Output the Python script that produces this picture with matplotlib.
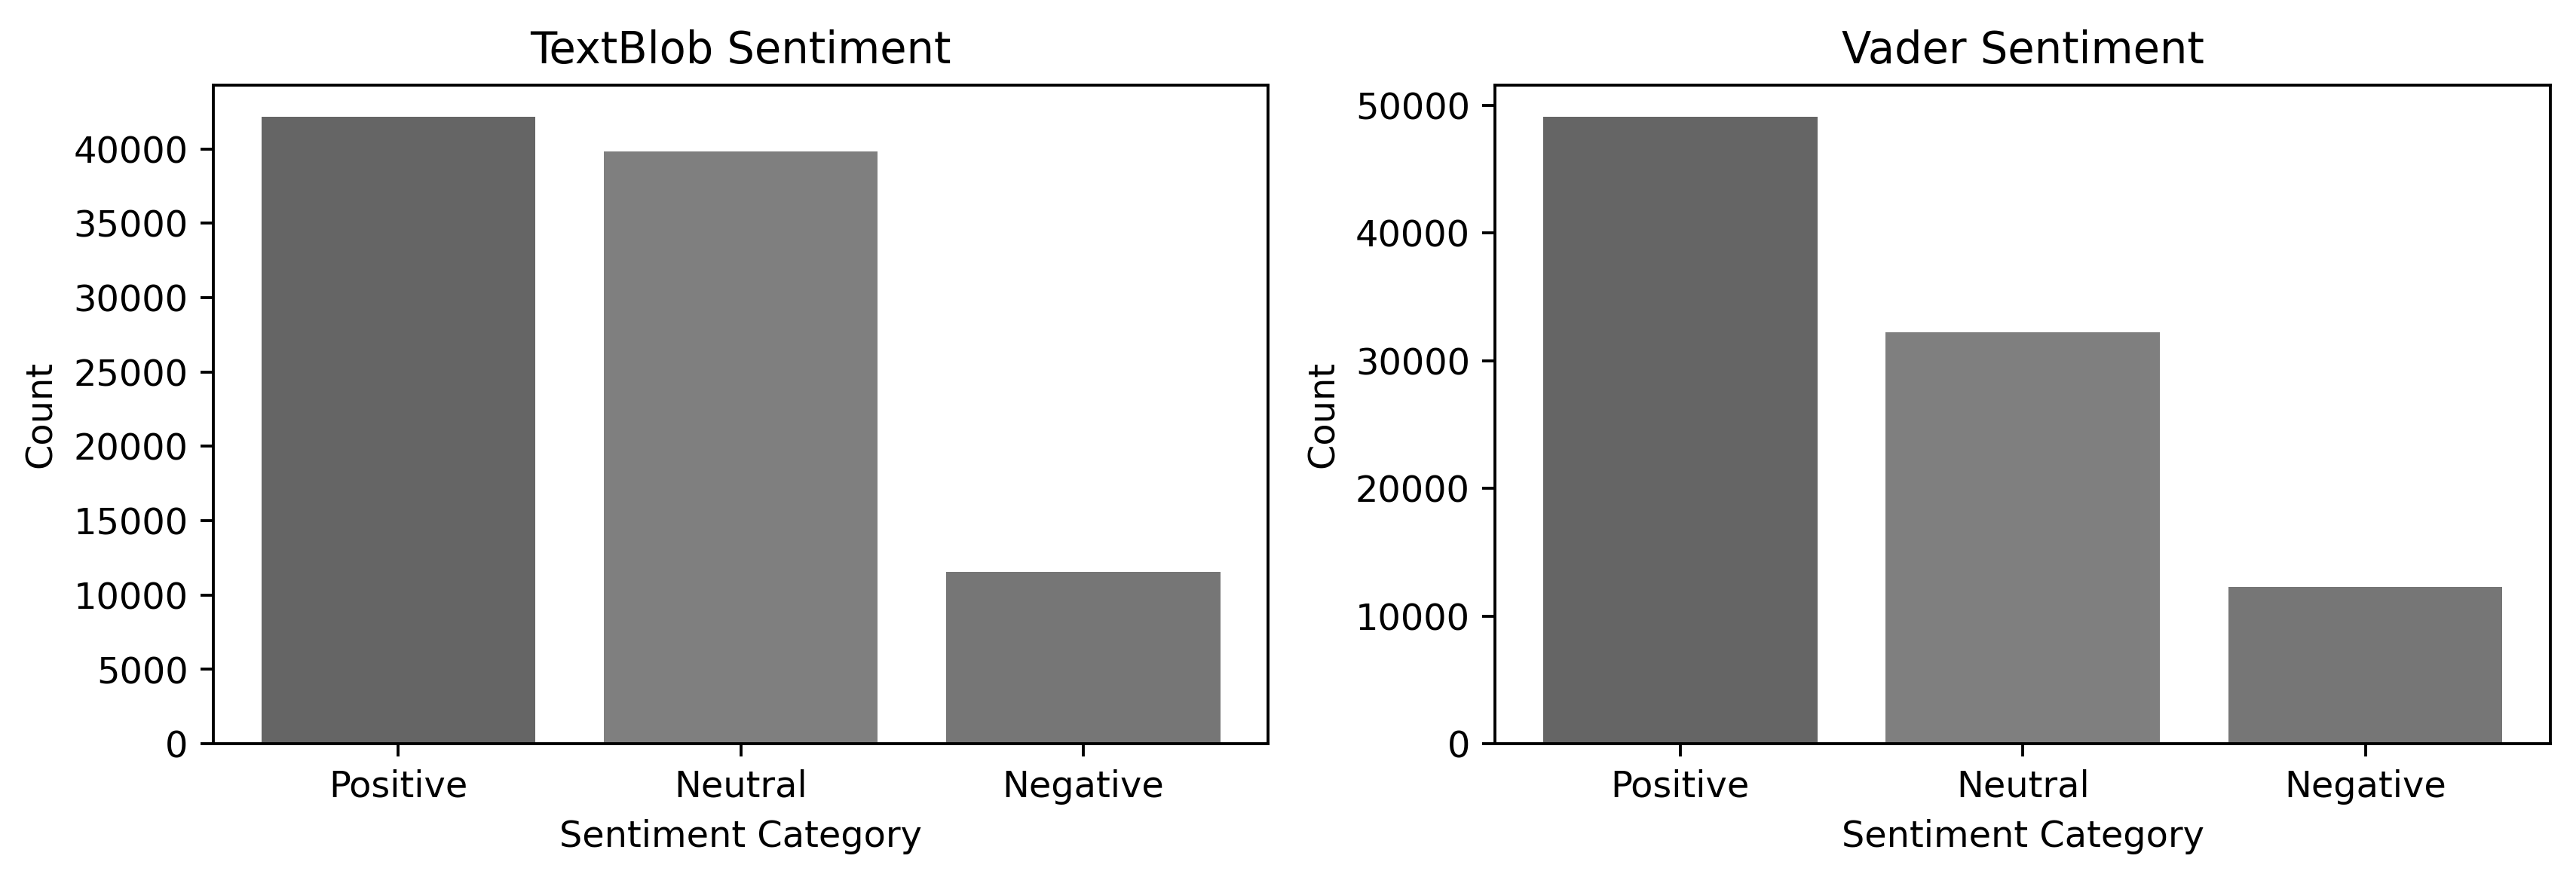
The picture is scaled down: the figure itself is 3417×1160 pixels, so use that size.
import matplotlib
matplotlib.use("Agg")
import matplotlib.pyplot as plt

categories = ["Positive", "Neutral", "Negative"]
textblob_counts = [42190, 39860, 11550]
vader_counts = [49120, 32250, 12260]
bar_colors = ["#656565", "#7f7f7f", "#767676"]

# smaller figure at higher dpi so text scales like the original
fig, (ax1, ax2) = plt.subplots(1, 2, figsize=(9.899, 3.3604), dpi=345.2)
fig.subplots_adjust(left=0.0828, right=0.990, bottom=0.149, top=0.9026, wspace=0.215)

ax1.bar(categories, textblob_counts, color=bar_colors)
ax1.set_title("TextBlob Sentiment")
ax1.set_xlabel("Sentiment Category")
ax1.set_ylabel("Count")

ax2.bar(categories, vader_counts, color=bar_colors)
ax2.set_title("Vader Sentiment")
ax2.set_xlabel("Sentiment Category")
ax2.set_ylabel("Count")

fig.savefig("out.png", dpi=345.2)
